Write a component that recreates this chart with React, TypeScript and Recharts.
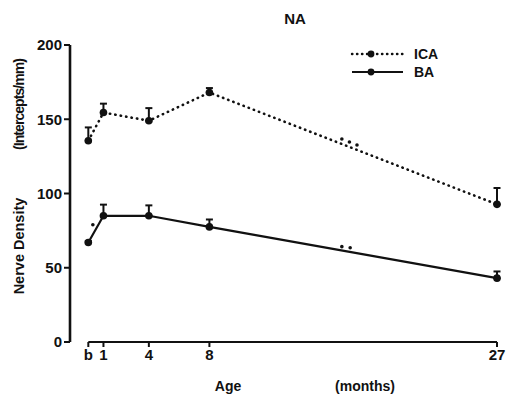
import React from 'react';
import {
  ComposedChart,
  Line,
  Scatter,
  XAxis,
  YAxis,
  ErrorBar,
  ReferenceLine,
} from 'recharts';

// Age in months ("b" = birth)
const ages = [0, 1, 4, 8, 27];
const ageLabels = ['b', '1', '4', '8', '27'];

// Nerve density (intercepts/mm), mean and upper error
const icaMean = [135.5, 154.5, 149, 168, 92.7];
const icaErr = [9, 6, 8.5, 3, 11];
const baMean = [67, 85, 85, 77.5, 43];
const baErr = [1, 7.5, 7, 5, 4.5];

// significance marks drawn next to the lines
const icaSigAge = [16.75, 17.25, 17.75];
const icaSigVal = [136.7, 134.7, 132.7];
const baSigAge = [0.3, 16.75, 17.3];
const baSigVal = [79, 64.2, 63.5];

const yTicks = [0, 50, 100, 150, 200];

const FONT = '"Liberation Sans", Arial, Helvetica, sans-serif';
const INK = '#111';

const rows = ages.map((age, i) => ({
  age,
  ica: icaMean[i],
  icaErr: [0, icaErr[i]],
  ba: baMean[i],
  baErr: [0, baErr[i]],
}));

const sigRows = [
  ...icaSigAge.map((age, i) => ({ age, sig: icaSigVal[i] })),
  ...baSigAge.map((age, i) => ({ age, sig: baSigVal[i] })),
];

const renderDot = (p: any) => (
  <circle key={`d-${p.index}-${p.cx}`} cx={p.cx} cy={p.cy} r={3.8} fill={INK} />
);

const SigDot = (p: any) => <circle cx={p.cx} cy={p.cy} r={1.8} fill={INK} />;

const tickStyle = { fill: INK, fontSize: 15, fontWeight: 'bold', fontFamily: FONT };

export default function App() {
  return (
    <div style={{ position: 'absolute', left: 0, top: 0, background: '#fff' }}>
      <ComposedChart
        width={510}
        height={399}
        data={rows}
        margin={{ top: 45, right: 13, bottom: 27, left: 0 }}
        style={{ fontFamily: FONT }}
      >
        <XAxis
          dataKey="age"
          type="number"
          domain={[-1.21, 27]}
          ticks={ages}
          tickFormatter={(v: number) => ageLabels[ages.indexOf(v)] ?? ''}
          axisLine={false}
          tickLine={{ stroke: INK, strokeWidth: 2 }}
          tickSize={5}
          tick={tickStyle}
          height={30}
          interval={0}
        />
        <YAxis
          domain={[0, 200]}
          ticks={yTicks}
          width={70}
          axisLine={{ stroke: INK, strokeWidth: 2.6 }}
          tickLine={{ stroke: INK, strokeWidth: 2 }}
          tickSize={6}
          tick={tickStyle}
        />
        <ReferenceLine
          segment={[
            { x: ages[0], y: 0 },
            { x: ages[ages.length - 1], y: 0 },
          ]}
          stroke={INK}
          strokeWidth={2}
        />

        {/* error bars first, so the markers sit on top of the lower caps */}
        <Line dataKey="ica" stroke="none" dot={false} activeDot={false} legendType="none" isAnimationActive={false}>
          <ErrorBar dataKey="icaErr" width={3.5} stroke={INK} strokeWidth={2} />
        </Line>
        <Line dataKey="ba" stroke="none" dot={false} activeDot={false} legendType="none" isAnimationActive={false}>
          <ErrorBar dataKey="baErr" width={3.5} stroke={INK} strokeWidth={2} />
        </Line>

        <Line
          dataKey="ica"
          type="linear"
          stroke={INK}
          strokeWidth={2.6}
          strokeDasharray="0.4 5.1"
          strokeLinecap="round"
          dot={renderDot}
          activeDot={false}
          isAnimationActive={false}
        />
        <Line
          dataKey="ba"
          type="linear"
          stroke={INK}
          strokeWidth={2.2}
          dot={renderDot}
          activeDot={false}
          isAnimationActive={false}
        />
        <Scatter data={sigRows} dataKey="sig" shape={SigDot} isAnimationActive={false} />

        {/* title */}
        <text x={295} y={24} textAnchor="middle" fontSize={15} fontWeight="bold" fill={INK}>
          NA
        </text>

        {/* y axis label */}
        <text
          x={19}
          y={104}
          transform="rotate(-90 19 104)"
          textAnchor="middle"
          dy="0.35em"
          fontSize={14}
          fontWeight="bold"
          fill={INK}
          textLength={92}
        >
          (Intercepts/mm)
        </text>
        <text
          x={19}
          y={246}
          transform="rotate(-90 19 246)"
          textAnchor="middle"
          dy="0.35em"
          fontSize={14.5}
          fontWeight="bold"
          fill={INK}
        >
          Nerve Density
        </text>

        {/* x axis label */}
        <text x={228} y={391} textAnchor="middle" fontSize={14} fontWeight="bold" fill={INK}>
          Age
        </text>
        <text x={365} y={391} textAnchor="middle" fontSize={14} fontWeight="bold" fill={INK}>
          (months)
        </text>

        {/* legend */}
        <line x1={352} y1={54} x2={403} y2={54} stroke={INK} strokeWidth={2.4} strokeDasharray="0.4 4.6" strokeLinecap="round" />
        <circle cx={371} cy={54} r={3.4} fill={INK} />
        <text x={414} y={54} dy="0.35em" fontSize={14} fontWeight="bold" fill={INK}>
          ICA
        </text>
        <line x1={352} y1={72} x2={403} y2={72} stroke={INK} strokeWidth={2.2} />
        <circle cx={371} cy={72} r={3.4} fill={INK} />
        <text x={414} y={72} dy="0.35em" fontSize={14} fontWeight="bold" fill={INK}>
          BA
        </text>
      </ComposedChart>
    </div>
  );
}
